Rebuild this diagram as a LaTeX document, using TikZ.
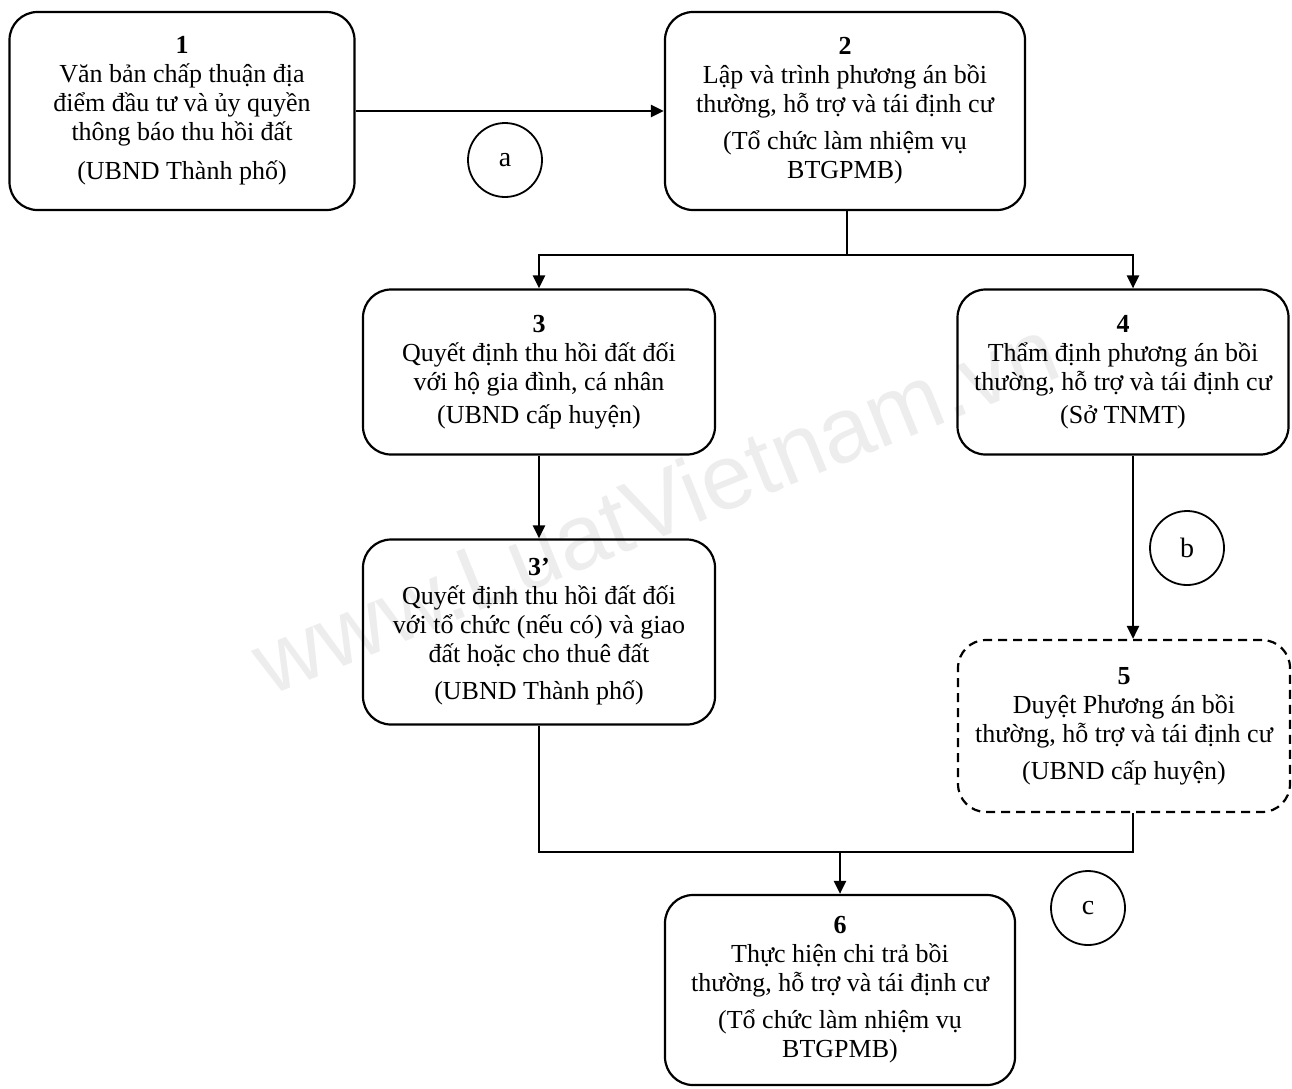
\documentclass[tikz,border=0pt]{standalone}
\usepackage{fontspec}
\setmainfont{Liberation Serif}
\newfontfamily\wmfont{Liberation Sans}
\usetikzlibrary{arrows.meta}
\begin{document}
\begin{tikzpicture}[x=1pt,y=-1pt,
  box/.style={draw, line width=2.2pt, rounded corners=28pt, align=center,
    font=\fontsize{26}{29}\selectfont, inner sep=0pt},
  dbox/.style={box, dash pattern=on 9pt off 6pt},
  conn/.style={line width=2.6pt},
  arr/.style={conn, -{Triangle[length=13pt,width=12pt]}},
  lbl/.style={draw, circle, line width=1.8pt, minimum size=74pt, inner sep=0pt,
    font=\fontsize{28}{28}\selectfont},
  wm/.style={text=gray!14, font=\wmfont\fontsize{92}{92}\selectfont}
]
\useasboundingbox (0,0) rectangle (1292,1088);
\node[wm, rotate=22] (wmk) at (655,505) {www.LuatVietnam.vn};

\node[box, minimum width=345pt, minimum height=198pt] (b1) at (182,111)
  {\textbf{1}\\Văn bản chấp thuận địa\\điểm đầu tư và ủy quyền\\thông báo thu hồi đất\\[10pt](UBND Thành phố)};
\node[box, minimum width=360pt, minimum height=198pt] (b2) at (845,111)
  {\textbf{2}\\Lập và trình phương án bồi\\thường, hỗ trợ và tái định cư\\[8pt](Tổ chức làm nhiệm vụ\\BTGPMB)};
\node[box, minimum width=352pt, minimum height=165pt] (b3) at (539,372)
  {\textbf{3}\\Quyết định thu hồi đất đối\\với hộ gia đình, cá nhân\\[4pt](UBND cấp huyện)};
\node[box, minimum width=331pt, minimum height=165pt] (b4) at (1123,372)
  {\textbf{4}\\Thẩm định phương án bồi\\thường, hỗ trợ và tái định cư\\[4pt](Sở TNMT)};
\node[box, minimum width=352pt, minimum height=185pt] (b3p) at (539,632)
  {\textbf{3’}\\Quyết định thu hồi đất đối\\với tổ chức (nếu có) và giao\\đất hoặc cho thuê đất\\[8pt](UBND Thành phố)};
\node[dbox, minimum width=332pt, minimum height=172pt] (b5) at (1124,726)
  {\textbf{5}\\Duyệt Phương án bồi\\thường, hỗ trợ và tái định cư\\[8pt](UBND cấp huyện)};
\node[box, minimum width=350pt, minimum height=190pt] (b6) at (840,990)
  {\textbf{6}\\Thực hiện chi trả bồi\\thường, hỗ trợ và tái định cư\\[8pt](Tổ chức làm nhiệm vụ\\BTGPMB)};

\node[lbl] (la) at (505,160) {a};
\node[lbl] (lb) at (1187,548) {b};
\node[lbl] (lc) at (1088,908) {c};

\coordinate (x4) at (1133,0);
\coordinate (j1) at (847,255);
\coordinate (j2) at (840,852);

\draw[arr] (b1.east) -- (b2.west);
\draw[conn] (b2.south -| j1) -- (j1);
\draw[arr] (j1) -| (b3.north);
\draw[arr] (j1) -| (x4 |- b4.north);
\draw[arr] (b3.south) -- (b3p.north);
\draw[arr] (x4 |- b4.south) -- (x4 |- b5.north);
\draw[conn] (b3p.south) |- (j2) -| (x4 |- b5.south);
\draw[arr] (j2) -- (b6.north);
\end{tikzpicture}
\end{document}
